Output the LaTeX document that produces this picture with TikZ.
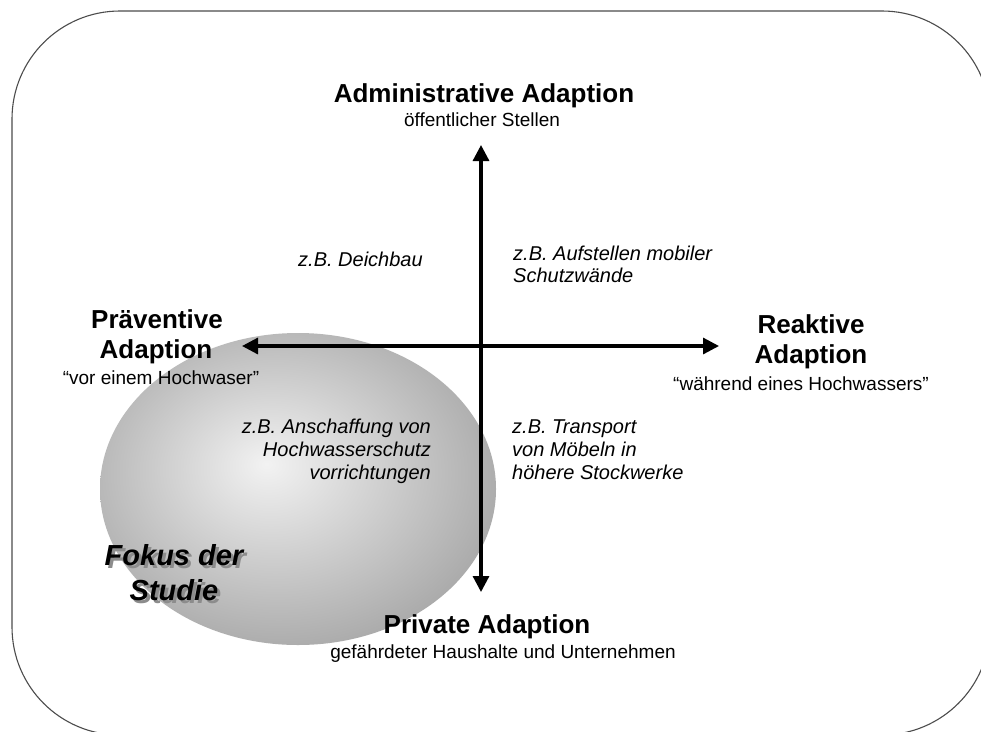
\documentclass[tikz,border=0pt]{standalone}
\usepackage{fontspec}
\setmainfont{Liberation Sans}
\usetikzlibrary{arrows.meta}
\pgfdeclareradialshading{fokusshade}{\pgfpoint{-4bp}{4bp}}{color(0bp)=(black!5);color(29bp)=(black!34);color(60bp)=(black!34)}
\tikzset{
  frame/.style={draw=black!70, line width=1.1pt, rounded corners=108pt},
  axis/.style={line width=3.2pt, {Triangle[length=16pt,width=16pt]}-{Triangle[length=16pt,width=16pt]}},
  txt/.style={inner sep=0pt, anchor=base},
  bold/.style={txt, font=\fontsize{26}{30}\selectfont\bfseries},
  reg/.style={txt, font=\fontsize{19}{22}\selectfont},
  ital/.style={txt, font=\fontsize{20}{23}\selectfont\itshape},
  fokus/.style={txt, font=\fontsize{29}{34}\selectfont\bfseries\itshape},
}
\begin{document}
\begin{tikzpicture}[x=1pt,y=-1pt]
\useasboundingbox (0,0) rectangle (981,731);
\fill[white] (0,0) rectangle (981,731);
\draw[frame] (12,11) rectangle (990,735);
% focus ellipse
\shade[shading=fokusshade] (298,489) ellipse [x radius=198, y radius=156];
% axes
\coordinate (top) at (481,145);
\coordinate (bot) at (481,592);
\coordinate (lft) at (242,346);
\coordinate (rgt) at (719,346);
\draw[axis] (top) -- (bot);
\draw[axis] (lft) -- (rgt);
% labels
\node[bold] (adm) at (484,102) {Administrative Adaption};
\node[reg] (adm2) at (482,126) {öffentlicher Stellen};
\node[bold] (pri) at (487,633) {Private Adaption};
\node[reg] (pri2) at (503,658) {gefährdeter Haushalte und Unternehmen};
\node[bold] (pra1) at (157,328) {Präventive};
\node[bold] (pra2) at (156,358) {Adaption};
\node[reg] (pra3) at (161,384) {“vor einem Hochwaser”};
\node[bold] (rea1) at (811,333) {Reaktive};
\node[bold] (rea2) at (811,363) {Adaption};
\node[reg] (rea3) at (801,390) {“während eines Hochwassers”};
\node[ital, anchor=base west] (q1) at (298,266) {z.B. Deichbau};
\node[ital, anchor=base west] (q2a) at (513,260) {z.B. Aufstellen mobiler};
\node[ital, anchor=base west] (q2b) at (513,282) {Schutzwände};
\node[ital, anchor=base east] (q3a) at (431,433) {z.B. Anschaffung von};
\node[ital, anchor=base east] (q3b) at (431,456) {Hochwasserschutz};
\node[ital, anchor=base east] (q3c) at (431,479) {vorrichtungen};
\node[ital, anchor=base west] (q4a) at (512,433) {z.B. Transport};
\node[ital, anchor=base west] (q4b) at (512,456) {von Möbeln in};
\node[ital, anchor=base west] (q4c) at (512,479) {höhere Stockwerke};
\node[fokus, text=black!45] (f1s) at (177,568) {Fokus der};
\node[fokus, text=black!45] (f2s) at (177,603) {Studie};
\node[fokus] (f1) at (174,565) {Fokus der};
\node[fokus] (f2) at (174,600) {Studie};
\end{tikzpicture}
\end{document}
